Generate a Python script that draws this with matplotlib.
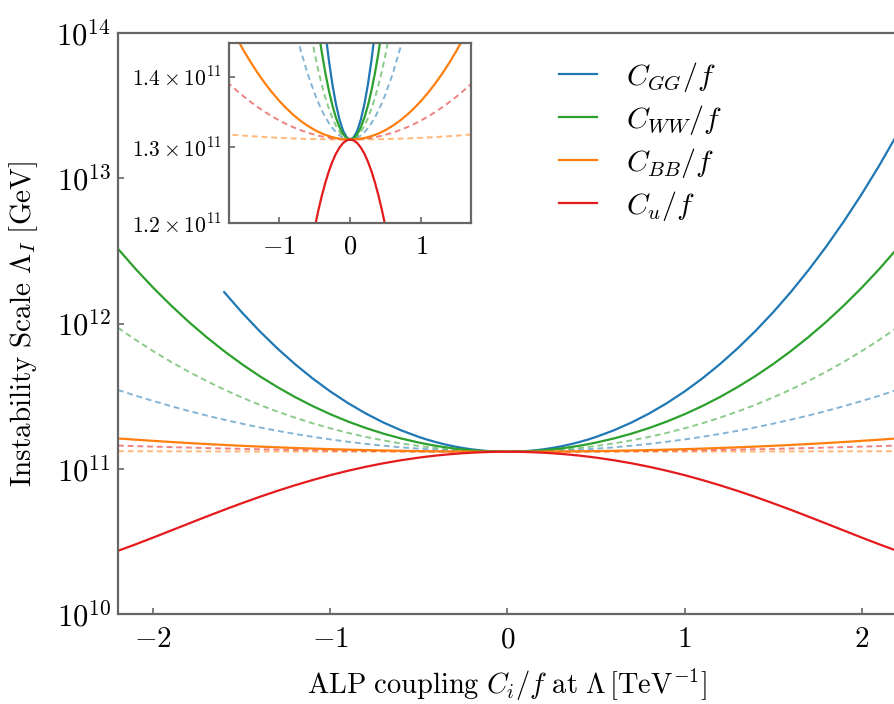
import numpy as np
import matplotlib
matplotlib.use('Agg')
import matplotlib.pyplot as plt
from matplotlib.ticker import NullLocator

plt.rcParams['mathtext.fontset'] = 'cm'
plt.rcParams['font.family'] = ['DejaVu Serif']

# coupling C_i/f [1/TeV]
coupling = [-2.2, -2.1, -2.0, -1.9, -1.8, -1.7, -1.6, -1.5, -1.4, -1.3, -1.2, -1.1, -1.0,
            -0.9, -0.8, -0.7, -0.6, -0.5, -0.45, -0.4, -0.35, -0.3, -0.25, -0.2, -0.15,
            -0.1, -0.05, 0.0, 0.05, 0.1, 0.15, 0.2, 0.25, 0.3, 0.35, 0.4, 0.45, 0.5, 0.6,
            0.7, 0.8, 0.9, 1.0, 1.1, 1.2, 1.3, 1.4, 1.5, 1.6, 1.7, 1.8, 1.9, 2.0, 2.1, 2.2]

nan = np.nan
# instability scale in units of 1e11 GeV, solid curves
lam_gg = [nan, nan, nan, nan, nan, nan, 16.45, 11.93, 8.865, 6.744, 5.252, 4.181, 3.402,
          2.829, 2.401, 2.080, 1.838, 1.656, 1.5826, 1.5212, 1.4685, 1.4247, 1.3886, 1.3598, 1.3378,
          1.3223, 1.3131, 1.31, 1.3131, 1.3223, 1.3378, 1.3598, 1.3886, 1.4247, 1.4685, 1.5212, 1.5826, 1.656, 1.838,
          2.080, 2.401, 2.829, 3.402, 4.181, 5.252, 6.744, 8.865, 11.93, 16.45, 23.29, 33.82, 50.50, 77.50, 122.5, 199.6]
lam_ww = [32.71, 23.72, 17.59, 13.31, 10.26, 8.066, 6.453, 5.252, 4.345, 3.654, 3.118, 2.701, 2.373,
          2.114, 1.908, 1.7445, 1.6155, 1.5145, 1.4728, 1.4370, 1.4058, 1.3797, 1.3580, 1.3405, 1.3271,
          1.3176, 1.3119, 1.31, 1.3119, 1.3176, 1.3271, 1.3405, 1.3580, 1.3797, 1.4058, 1.4370, 1.4728, 1.5145, 1.6155,
          1.7445, 1.908, 2.114, 2.373, 2.701, 3.118, 3.654, 4.345, 5.252, 6.453, 8.066, 10.26, 13.31, 17.59, 23.72, 32.71]
lam_bb = [1.6182, 1.5860, 1.5563, 1.5288, 1.5036, 1.4803, 1.4590, 1.4394, 1.4215, 1.4051, 1.3903, 1.3769, 1.3648,
          1.3541, 1.3446, 1.3363, 1.3293, 1.3233, 1.3208, 1.3185, 1.3165, 1.3148, 1.3133, 1.3121, 1.3112,
          1.3105, 1.3101, 1.31, 1.3101, 1.3105, 1.3112, 1.3121, 1.3133, 1.3148, 1.3165, 1.3185, 1.3208, 1.3233, 1.3293,
          1.3363, 1.3446, 1.3541, 1.3648, 1.3769, 1.3903, 1.4051, 1.4215, 1.4394, 1.4590, 1.4803, 1.5036, 1.5288, 1.5563, 1.5860, 1.6182]
lam_u = [0.2723, 0.3020, 0.3364, 0.3757, 0.4198, 0.4686, 0.5220, 0.5792, 0.6405, 0.7044, 0.7700, 0.8370, 0.9042,
         0.9693, 1.0323, 1.0915, 1.1455, 1.1934, 1.2147, 1.2341, 1.2515, 1.2668, 1.2798, 1.2906, 1.2990,
         1.3051, 1.3088, 1.31, 1.3088, 1.3051, 1.2990, 1.2906, 1.2798, 1.2668, 1.2515, 1.2341, 1.2147, 1.1934, 1.1455,
         1.0915, 1.0323, 0.9693, 0.9042, 0.8370, 0.7700, 0.7044, 0.6405, 0.5792, 0.5220, 0.4686, 0.4198, 0.3757, 0.3364, 0.3020, 0.2723]

# dashed curves
lam_gg_d = [3.4881, 3.1862, 2.9260, 2.6981, 2.5000, 2.3263, 2.1760, 2.0443, 1.9274, 1.8259, 1.7373, 1.6599, 1.5926,
            1.5341, 1.4838, 1.4409, 1.4047, 1.3751, 1.3624, 1.3512, 1.3414, 1.3330, 1.3259, 1.3202, 1.3157,
            1.3125, 1.3106, 1.31, 1.3106, 1.3125, 1.3157, 1.3202, 1.3259, 1.3330, 1.3414, 1.3512, 1.3624, 1.3751, 1.4047,
            1.4409, 1.4838, 1.5341, 1.5926, 1.6599, 1.7373, 1.8259, 1.9274, 2.0443, 2.1760, 2.3263, 2.5000, 2.6981, 2.9260, 3.1862, 3.4881]
lam_ww_d = [9.3535, 7.7173, 6.4457, 5.446, 4.6546, 4.0213, 3.5112, 3.0962, 2.7565, 2.478, 2.2477, 2.0563, 1.8979,
            1.7664, 1.6573, 1.5674, 1.4938, 1.4347, 1.4098, 1.3883, 1.3694, 1.3534, 1.3400, 1.3291, 1.3207,
            1.3147, 1.3112, 1.31, 1.3112, 1.3147, 1.3207, 1.3291, 1.3400, 1.3534, 1.3694, 1.3883, 1.4098, 1.4347, 1.4938,
            1.5674, 1.6573, 1.7664, 1.8979, 2.0563, 2.2477, 2.478, 2.7565, 3.0962, 3.5112, 4.0213, 4.6546, 5.446, 6.4457, 7.7173, 9.3535]
lam_bb_d = [1.3217, 1.3207, 1.3197, 1.3187, 1.3178, 1.3170, 1.3162, 1.3154, 1.3147, 1.3141, 1.3135, 1.3129, 1.3124,
            1.3120, 1.3115, 1.3112, 1.3109, 1.3106, 1.3105, 1.3104, 1.3103, 1.3102, 1.3102, 1.3101, 1.3101,
            1.3100, 1.3100, 1.31, 1.3100, 1.3100, 1.3101, 1.3101, 1.3102, 1.3102, 1.3103, 1.3104, 1.3105, 1.3106, 1.3109,
            1.3112, 1.3115, 1.3120, 1.3124, 1.3129, 1.3135, 1.3141, 1.3147, 1.3154, 1.3162, 1.3170, 1.3178, 1.3187, 1.3197, 1.3207, 1.3217]
lam_u_d = [1.4450, 1.4324, 1.4206, 1.4094, 1.3989, 1.3890, 1.3798, 1.3711, 1.3631, 1.3556, 1.3488, 1.3425, 1.3368,
           1.3317, 1.3271, 1.3231, 1.3196, 1.3167, 1.3154, 1.3143, 1.3133, 1.3124, 1.3117, 1.3111, 1.3106,
           1.3103, 1.3101, 1.31, 1.3101, 1.3103, 1.3106, 1.3111, 1.3117, 1.3124, 1.3133, 1.3143, 1.3154, 1.3167, 1.3196,
           1.3231, 1.3271, 1.3317, 1.3368, 1.3425, 1.3488, 1.3556, 1.3631, 1.3711, 1.3798, 1.3890, 1.3989, 1.4094, 1.4206, 1.4324, 1.4450]

labels = [r'$C_{GG}/f$', r'$C_{WW}/f$', r'$C_{BB}/f$', r'$C_u/f$']
colors = ['#1f77b4', '#2ca02c', '#ff7f0e', '#e41a1c']
solid = [lam_gg, lam_ww, lam_bb, lam_u]
dashed = [lam_gg_d, lam_ww_d, lam_bb_d, lam_u_d]

spine_col = '#666666'


def draw_curves(ax, with_labels):
    for ys, c in zip(dashed, colors):
        ax.plot(coupling, np.array(ys) * 1e11, color=c, lw=1.4, alpha=0.55,
                ls=(0, (3, 2)))
    for ys, c, lab in zip(solid, colors, labels):
        ax.plot(coupling, np.array(ys) * 1e11, color=c, lw=1.6,
                label=lab if with_labels else None)


def style_axes(ax):
    for s in ax.spines.values():
        s.set_color(spine_col)
        s.set_linewidth(1.6)
    ax.tick_params(direction='in', length=4, width=1.2, color=spine_col,
                   top=False, right=False)
    ax.yaxis.set_minor_locator(NullLocator())
    ax.xaxis.set_minor_locator(NullLocator())


fig = plt.figure(figsize=(8.95, 7.04), dpi=100)
ax = fig.add_axes([0.1318, 0.1278, 0.8704, 0.8253])
ax.set_yscale('log')
draw_curves(ax, True)
ax.set_xlim(-2.2, 2.2)
ax.set_ylim(1e10, 1e14)
style_axes(ax)
ax.set_xticks([-2, -1, 0, 1, 2])
ax.set_xticklabels([r'$-2$', r'$-1$', r'$0$', r'$1$', r'$2$'], fontsize=21)
ax.set_yticks([1e10, 1e11, 1e12, 1e13, 1e14])
ax.set_yticklabels([r'$10^{10}$', r'$10^{11}$', r'$10^{12}$', r'$10^{13}$', r'$10^{14}$'], fontsize=22)
ax.tick_params(axis='x', pad=8)
ax.tick_params(axis='y', pad=5)
ax.set_xlabel(r'$\mathrm{ALP\ coupling}\ C_i/f\ \mathrm{at}\ \Lambda\,[\mathrm{TeV}^{-1}]$',
              fontsize=20.5, labelpad=10)
ax.set_ylabel(r'$\mathrm{Instability\ Scale}\ \Lambda_I\ [\mathrm{GeV}]$', fontsize=21, labelpad=12)

ax.legend(loc='upper left', bbox_to_anchor=(0.532, 1.0), frameon=False,
          fontsize=21.5, handlelength=1.27, handletextpad=0.95, labelspacing=0.3)

# zoom around the crossing point
ins = fig.add_axes([0.2562, 0.6837, 0.2701, 0.2548])
ins.set_yscale('log')
draw_curves(ins, False)
ins.set_xlim(-1.7, 1.7)
ins.set_ylim(1.2e11, 1.45e11)
style_axes(ins)
ins.set_xticks([-1, 0, 1])
ins.set_xticklabels([r'$-1$', r'$0$', r'$1$'], fontsize=19)
ins.set_yticks([1.2e11, 1.3e11, 1.4e11])
ins.set_yticklabels([r'$1.2\times10^{11}$', r'$1.3\times10^{11}$', r'$1.4\times10^{11}$'],
                    fontsize=15.5)
ins.tick_params(axis='x', pad=8)
ins.tick_params(axis='y', pad=5)

fig.savefig('out.png', dpi=100)
